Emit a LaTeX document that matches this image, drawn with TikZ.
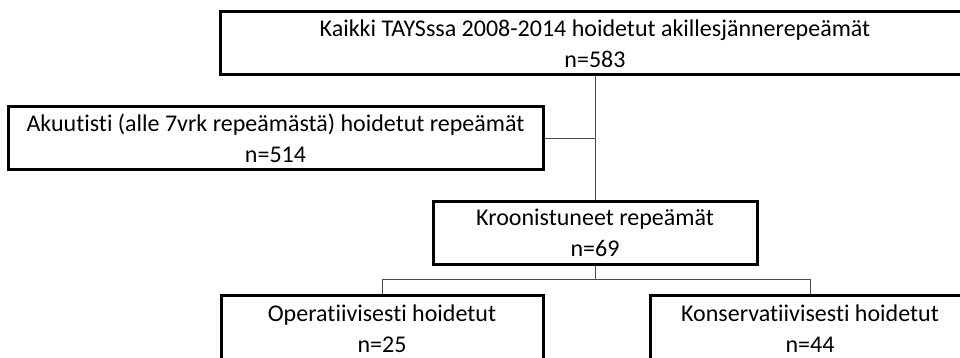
\documentclass[tikz,border=0pt]{standalone}
\usepackage{fontspec}
\setmainfont{Carlito}[Ligatures=NoCommon]
\tikzset{
    flow-box/.style = {draw=black, line width=3pt, rectangle, align=center, inner sep=0pt, minimum height=63pt, font=\fontsize{24}{31}\selectfont},
    flow-line/.style = {draw=black!70, line width=1pt},
}

\begin{document}
\begin{tikzpicture}[x=1pt, y=-1pt]
\useasboundingbox (0,0) rectangle (960,358);
\clip (0,0) rectangle (960,358);
\node[flow-box, minimum width=750pt] (all) at (595,43.5) {Kaikki TAYSssa 2008-2014 hoidetut akillesjännerepeämät\\n=583};
\node[flow-box, minimum width=535pt] (acute) at (275.5,138.5) {Akuutisti (alle 7vrk repeämästä) hoidetut repeämät\\n=514};
\node[flow-box, minimum width=324pt] (chronic) at (595,232.5) {Kroonistuneet repeämät\\n=69};
\node[flow-box, minimum width=322pt, minimum height=68pt] (operative) at (382,329) {Operatiivisesti hoidetut\\n=25};
\node[flow-box, minimum width=320pt, minimum height=68pt] (conservative) at (810,329) {Konservatiivisesti hoidetut\\n=44};
\draw[flow-line] (all.south) -- (chronic.north);
\draw[flow-line] (acute.east) -- (acute.east -| all.south);
\draw[flow-line] (chronic.south) -- ++(0,14) -| (operative.north);
\draw[flow-line] (chronic.south) -- ++(0,14) -| (conservative.north);
\end{tikzpicture}
\end{document}
